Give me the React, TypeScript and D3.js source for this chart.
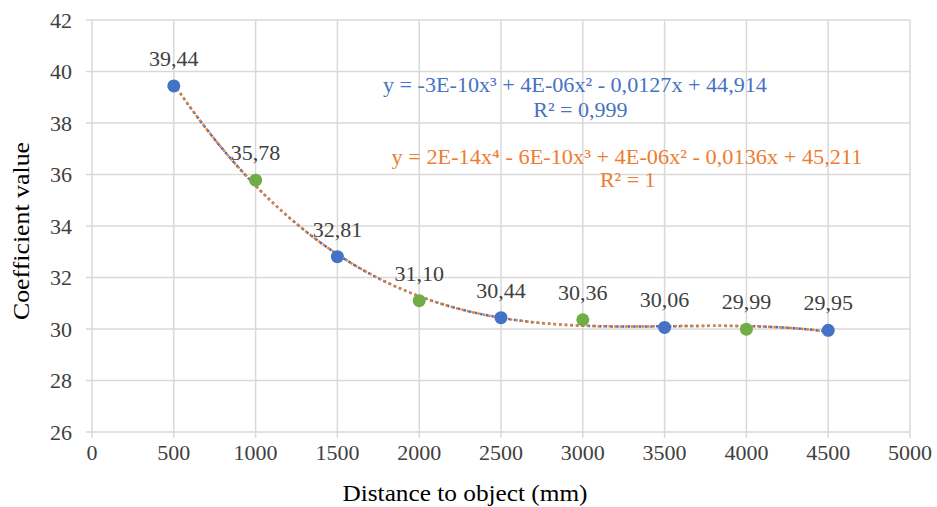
import React, { useEffect } from 'react';
import * as d3 from 'd3';

// distance to object (mm) and measured coefficient
const distances = [500, 1000, 1500, 2000, 2500, 3000, 3500, 4000, 4500];
const coefficients = [39.44, 35.78, 32.81, 31.1, 30.44, 30.36, 30.06, 29.99, 29.95];
const pointGroups = ['a', 'b', 'a', 'b', 'a', 'b', 'a', 'b', 'a'];
const xTicks = [0, 500, 1000, 1500, 2000, 2500, 3000, 3500, 4000, 4500, 5000];
const yTicks = [26, 28, 30, 32, 34, 36, 38, 40, 42];
const cubicLabel = ['y = -3E-10x³ + 4E-06x² - 0,0127x + 44,914', 'R² = 0,999'];
const quarticLabel = ['y = 2E-14x⁴ - 6E-10x³ + 4E-06x² - 0,0136x + 45,211', 'R² = 1'];

const W = 937;
const H = 507;
const margin = { top: 20, right: 27, bottom: 75, left: 92 };
const FONT = 'Liberation Serif, Tinos, Times New Roman, DejaVu Serif, serif';

// least squares polynomial fit, x scaled to thousands to keep it stable
function polyFit(xs: number[], ys: number[], deg: number) {
  const n = deg + 1;
  const A = Array.from({ length: n }, () => new Array(n + 1).fill(0));
  xs.forEach((x0, k) => {
    const x = x0 / 1000;
    for (let i = 0; i < n; i++) {
      for (let j = 0; j < n; j++) A[i][j] += Math.pow(x, i + j);
      A[i][n] += ys[k] * Math.pow(x, i);
    }
  });
  for (let c = 0; c < n; c++) {
    let p = c;
    for (let r = c + 1; r < n; r++) if (Math.abs(A[r][c]) > Math.abs(A[p][c])) p = r;
    [A[c], A[p]] = [A[p], A[c]];
    for (let r = 0; r < n; r++) {
      if (r === c) continue;
      const f = A[r][c] / A[c][c];
      for (let k = c; k <= n; k++) A[r][k] -= f * A[c][k];
    }
  }
  const coef = A.map((row, i) => row[n] / row[i]);
  return (x0: number) => coef.reduce((s, c, i) => s + c * Math.pow(x0 / 1000, i), 0);
}

export default function App() {
  useEffect(() => {
    document.body.style.margin = '0';
  }, []);

  const iw = W - margin.left - margin.right;
  const ih = H - margin.top - margin.bottom;
  const x = d3.scaleLinear().domain([0, 5000]).range([0, iw]);
  const y = d3.scaleLinear().domain([26, 42]).range([ih, 0]);

  const cubic = polyFit(distances, coefficients, 3);
  const quartic = polyFit(distances, coefficients, 4);
  const samples = d3.range(distances[0], distances[distances.length - 1] + 1, 25);
  const line = d3.line<number>().x((d) => x(d));
  const cubicPath = line.y((d) => y(cubic(d)))(samples) || '';
  const quarticPath = line.y((d) => y(quartic(d)))(samples) || '';

  const grid = '#d9d9d9';
  const blue = '#4472c4';
  const green = '#70ad47';
  const orange = '#ed7d31';
  const textCol = '#404040';

  return (
    <svg width={W} height={H} style={{ display: 'block', background: '#fff' }}>
      <g transform={`translate(${margin.left},${margin.top})`}>
        {yTicks.map((t) => (
          <g key={'y' + t}>
            <line x1={-6} x2={iw} y1={y(t)} y2={y(t)} stroke={grid} strokeWidth={1.5} />
            <text x={-20} y={y(t)} dy="0.35em" textAnchor="end" fontFamily={FONT} fontSize={22} fill={textCol}>
              {t}
            </text>
          </g>
        ))}
        {xTicks.map((t) => (
          <g key={'x' + t}>
            <line x1={x(t)} x2={x(t)} y1={0} y2={ih + 6} stroke={grid} strokeWidth={1.5} />
            <text x={x(t)} y={ih + 20} dy="0.35em" textAnchor="middle" fontFamily={FONT} fontSize={22} fill={textCol}>
              {t}
            </text>
          </g>
        ))}

        <path d={cubicPath} fill="none" stroke={blue} strokeWidth={2.5} strokeDasharray="2.5 3.2" />
        <path d={quarticPath} fill="none" stroke={orange} strokeWidth={2.5} strokeDasharray="2.5 3" />

        {distances.map((d, i) => (
          <g key={'p' + d}>
            <circle cx={x(d)} cy={y(coefficients[i])} r={6.5} fill={pointGroups[i] === 'a' ? blue : green} />
            <text x={x(d)} y={y(coefficients[i]) - 20} textAnchor="middle" fontFamily={FONT} fontSize={22} fill={textCol}>
              {coefficients[i].toFixed(2).replace('.', ',')}
            </text>
          </g>
        ))}

        <text y={y(39.2)} textAnchor="middle" fontFamily={FONT} fontSize={22} fill={blue}>
          <tspan x={x(2952)} textLength={384} lengthAdjust="spacingAndGlyphs">{cubicLabel[0]}</tspan>
          <tspan x={x(2985)} dy={25}>{cubicLabel[1]}</tspan>
        </text>
        <text y={y(36.42)} textAnchor="middle" fontFamily={FONT} fontSize={22} fill={orange}>
          <tspan x={x(3270)} textLength={471} lengthAdjust="spacingAndGlyphs">{quarticLabel[0]}</tspan>
          <tspan x={x(3275)} dy={23}>{quarticLabel[1]}</tspan>
        </text>
      </g>

      <text
        x={465}
        y={501}
        textAnchor="middle"
        fontFamily={FONT}
        fontSize={24}
        fill="#000"
        textLength={245}
        lengthAdjust="spacingAndGlyphs"
      >
        Distance to object (mm)
      </text>
      <text
        transform={`translate(29,231) rotate(-90)`}
        textAnchor="middle"
        fontFamily={FONT}
        fontSize={24}
        fill="#000"
        textLength={178}
        lengthAdjust="spacingAndGlyphs"
      >
        Coefficient value
      </text>
    </svg>
  );
}
